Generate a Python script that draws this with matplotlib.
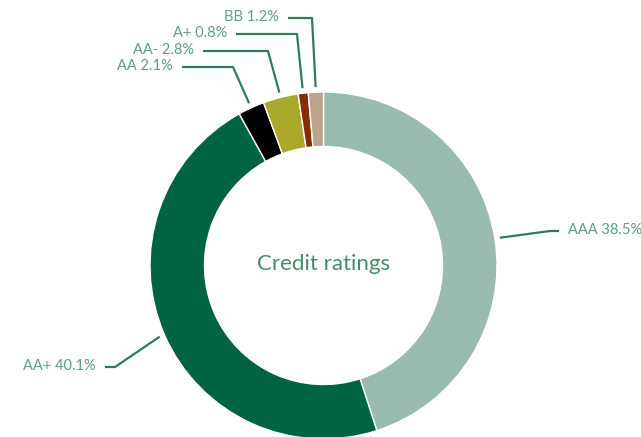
import numpy as np
import matplotlib.pyplot as plt

# ── Data ──────────────────────────────────────────────────────────────────────
ratings = ["AAA", "AA+", "AA", "AA-", "A+", "BB"]
shares = [38.5, 40.1, 2.1, 2.8, 0.8, 1.2]
colors = ["#9abcae", "#006341", "#000000", "#a9a82a", "#8a2c02", "#b9a38c"]

# label layout (pixel coords, y up): elbow point, end of horizontal stub
elbows = [(550, 206), (115, 70), (233, 370), (268, 386), (297, 403), (312, 419)]
stubs = [(559, 206), (105, 70), (182, 370), (203, 386), (236, 403), (288, 419)]

LINE = "#2e7d5b"
TEXT = "#5f9f82"
CENTER_TXT = "#458c6b"

W, H = 641, 437
fig = plt.figure(figsize=(W / 100, H / 100), dpi=100)
ax = fig.add_axes([0, 0, 1, 1])

cx, cy, R = 323.5, 171.5, 173.5
wedges, _ = ax.pie(shares, colors=colors, startangle=90, counterclock=False,
                   center=(cx, cy), radius=R, frame=True,
                   wedgeprops=dict(width=R * 0.314, edgecolor="white", linewidth=1))
ax.set_xlim(0, W)
ax.set_ylim(0, H)
ax.axis("off")
ax.set_aspect("equal")

for w, name, val, (ex, ey), (sx, sy) in zip(wedges, ratings, shares, elbows, stubs):
    ang = np.deg2rad((w.theta1 + w.theta2) / 2)
    px, py = cx + (R + 5) * np.cos(ang), cy + (R + 5) * np.sin(ang)
    ax.plot([px, ex, sx], [py, ey, sy], color=LINE, lw=1.6, solid_capstyle="butt")
    right = sx > ex
    ax.text(sx + (9 if right else -9), sy + 1, f"{name} {val}%",
            ha="left" if right else "right", va="center",
            fontsize=10.5, color=TEXT, family="Lato")

ax.text(cx, cy + 1, "Credit ratings", ha="center", va="center",
        fontsize=16, color=CENTER_TXT, family="Lato")

fig.savefig("out.png", dpi=100)
